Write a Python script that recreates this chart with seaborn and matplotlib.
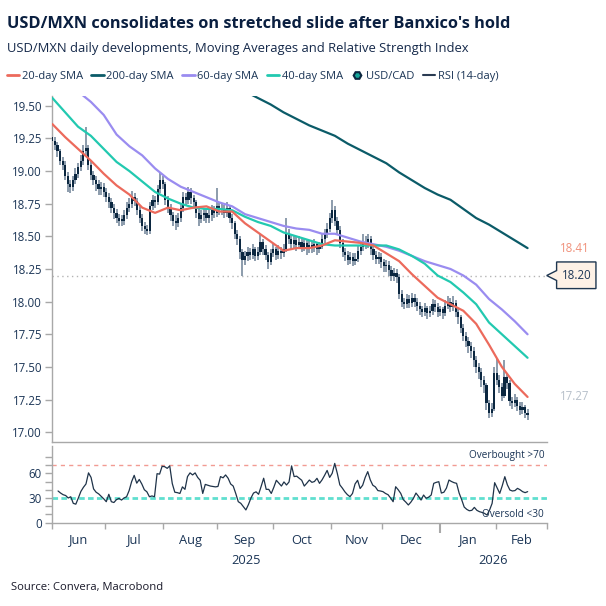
import numpy as np
import pandas as pd
import matplotlib
matplotlib.use("Agg")
import matplotlib.pyplot as plt
import matplotlib.transforms as mtransforms
from matplotlib.lines import Line2D
from matplotlib.patches import Polygon
from matplotlib.ticker import FormatStrFormatter, FixedLocator
import seaborn as sns

# USD/MXN daily candles, business days starting 4 Jun 2025
first_day = "2025-06-04"
axis_start, axis_end = "2025-06-02", "2026-02-27"
first_open = 19.26

close = [
    19.23, 19.20, 19.15, 19.08, 19.05, 18.96, 18.90, 18.88, 18.93, 18.98,
    19.03, 19.08, 19.15, 19.18, 19.05, 18.97, 18.93, 18.90, 18.86, 18.88,
    18.84, 18.80, 18.76, 18.72, 18.68, 18.64, 18.62, 18.62, 18.66, 18.72,
    18.75, 18.80, 18.77, 18.70, 18.64, 18.58, 18.56, 18.54, 18.73, 18.78,
    18.76, 18.86, 18.93, 18.90, 18.78, 18.72, 18.66, 18.62, 18.60, 18.64,
    18.72, 18.80, 18.78, 18.84, 18.79, 18.76, 18.68, 18.63, 18.66, 18.68,
    18.64, 18.66, 18.70, 18.68, 18.73, 18.70, 18.71, 18.68, 18.72, 18.64,
    18.60, 18.52, 18.48, 18.38, 18.32, 18.35, 18.38, 18.36, 18.40, 18.35,
    18.38, 18.46, 18.40, 18.36, 18.30, 18.37, 18.40, 18.36, 18.39, 18.37,
    18.40, 18.52, 18.48, 18.44, 18.47, 18.43, 18.46, 18.42, 18.45, 18.40,
    18.43, 18.41, 18.44, 18.40, 18.42, 18.48, 18.52, 18.56, 18.64, 18.70,
    18.62, 18.55, 18.45, 18.38, 18.36, 18.32, 18.34, 18.31, 18.33, 18.39,
    18.42, 18.46, 18.44, 18.48, 18.40, 18.36, 18.33, 18.34, 18.30, 18.27,
    18.28, 18.24, 18.20, 18.22, 18.19, 18.06, 18.00, 17.98, 18.02, 17.99,
    18.03, 18.00, 17.97, 17.94, 17.92, 17.95, 17.91, 17.93, 17.98, 17.96,
    17.92, 17.94, 17.91, 17.97, 18.00, 17.96, 17.99, 17.92, 17.88, 17.80,
    17.74, 17.70, 17.66, 17.62, 17.55, 17.50, 17.46, 17.40, 17.36, 17.22,
    17.15, 17.18, 17.45, 17.40, 17.35, 17.28, 17.42, 17.38, 17.24, 17.22,
    17.25, 17.20, 17.17, 17.19, 17.15, 17.13,
]
high = [
    19.29, 19.26, 19.22, 19.17, 19.11, 19.08, 18.99, 18.93, 18.96, 19.02,
    19.06, 19.12, 19.20, 19.34, 19.20, 19.08, 19.00, 18.96, 18.93, 18.92,
    18.91, 18.87, 18.83, 18.79, 18.75, 18.71, 18.67, 18.66, 18.70, 18.76,
    18.79, 18.85, 18.83, 18.79, 18.73, 18.67, 18.61, 18.59, 18.76, 18.82,
    18.81, 18.89, 18.99, 18.96, 18.92, 18.81, 18.75, 18.69, 18.66, 18.68,
    18.75, 18.84, 18.83, 18.88, 18.87, 18.82, 18.78, 18.71, 18.70, 18.72,
    18.71, 18.70, 18.74, 18.73, 18.87, 18.76, 18.75, 18.74, 18.76, 18.74,
    18.67, 18.62, 18.55, 18.50, 18.40, 18.39, 18.42, 18.41, 18.44, 18.42,
    18.42, 18.52, 18.48, 18.43, 18.38, 18.40, 18.44, 18.42, 18.43, 18.42,
    18.44, 18.64, 18.56, 18.51, 18.51, 18.50, 18.50, 18.49, 18.49, 18.47,
    18.47, 18.46, 18.48, 18.46, 18.46, 18.52, 18.56, 18.60, 18.68, 18.78,
    18.73, 18.65, 18.58, 18.48, 18.41, 18.39, 18.38, 18.37, 18.37, 18.43,
    18.46, 18.52, 18.50, 18.52, 18.50, 18.43, 18.39, 18.38, 18.37, 18.33,
    18.32, 18.31, 18.27, 18.26, 18.25, 18.21, 18.09, 18.03, 18.06, 18.05,
    18.07, 18.06, 18.03, 18.00, 17.97, 17.99, 17.97, 17.97, 18.02, 18.01,
    17.99, 17.97, 17.96, 18.01, 18.04, 18.03, 18.04, 18.01, 17.95, 17.90,
    17.83, 17.77, 17.73, 17.69, 17.65, 17.58, 17.53, 17.49, 17.43, 17.38,
    17.25, 17.22, 17.50, 17.57, 17.44, 17.38, 17.55, 17.45, 17.40, 17.27,
    17.29, 17.27, 17.23, 17.23, 17.21, 17.18,
]
low = [
    19.19, 19.16, 19.11, 19.05, 19.01, 18.93, 18.84, 18.83, 18.85, 18.90,
    18.95, 19.00, 19.05, 19.12, 19.01, 18.93, 18.89, 18.85, 18.82, 18.82,
    18.80, 18.76, 18.72, 18.68, 18.63, 18.60, 18.58, 18.58, 18.59, 18.63,
    18.69, 18.72, 18.73, 18.66, 18.60, 18.54, 18.52, 18.51, 18.52, 18.70,
    18.72, 18.74, 18.83, 18.86, 18.74, 18.68, 18.62, 18.58, 18.55, 18.57,
    18.61, 18.69, 18.74, 18.75, 18.75, 18.72, 18.64, 18.58, 18.60, 18.62,
    18.60, 18.60, 18.62, 18.64, 18.65, 18.66, 18.66, 18.64, 18.65, 18.60,
    18.56, 18.48, 18.43, 18.33, 18.20, 18.28, 18.31, 18.32, 18.33, 18.31,
    18.32, 18.36, 18.36, 18.32, 18.25, 18.28, 18.34, 18.32, 18.33, 18.33,
    18.34, 18.38, 18.44, 18.40, 18.41, 18.39, 18.40, 18.38, 18.39, 18.36,
    18.37, 18.37, 18.38, 18.36, 18.37, 18.40, 18.45, 18.49, 18.53, 18.60,
    18.58, 18.51, 18.41, 18.34, 18.31, 18.28, 18.29, 18.27, 18.28, 18.30,
    18.36, 18.39, 18.40, 18.41, 18.36, 18.32, 18.29, 18.29, 18.26, 18.23,
    18.23, 18.20, 18.16, 18.16, 18.14, 18.02, 17.96, 17.94, 17.95, 17.95,
    17.96, 17.96, 17.93, 17.90, 17.88, 17.89, 17.87, 17.88, 17.90, 17.92,
    17.88, 17.89, 17.87, 17.89, 17.94, 17.92, 17.93, 17.88, 17.83, 17.76,
    17.70, 17.65, 17.61, 17.57, 17.50, 17.45, 17.41, 17.35, 17.30, 17.17,
    17.11, 17.12, 17.16, 17.36, 17.30, 17.24, 17.26, 17.33, 17.20, 17.18,
    17.19, 17.16, 17.13, 17.14, 17.11, 17.09,
]
rsi = [
    38.5, 36, 34, 33, 30, 31.5, 23.5, 22.5, 30, 38,
    43, 47, 60.5, 55, 41, 37, 35, 32, 29, 25.5,
    34.5, 25.5, 24.5, 28, 29.5, 27.5, 30, 31.5, 39, 50,
    57.5, 48, 52.5, 47, 40, 37.5, 31.5, 32.5, 31.5, 59.5,
    59, 68.5, 68, 66, 69, 47.5, 37, 36.5, 35.5, 43.5,
    40.5, 56, 60.5, 58, 60.5, 55, 51.5, 35.5, 46.5, 45.5,
    44.5, 44, 43.5, 44, 56, 54.5, 58, 54, 47, 44.5,
    35.5, 25.5, 23.5, 19.5, 15.5, 22, 30, 36, 37.5, 34.5,
    44, 54, 40.5, 40.5, 35.5, 43, 51.5, 48, 44.5, 49.5,
    45.8, 49.5, 69, 56, 56.5, 54, 51.5, 44.5, 48, 51.8,
    49, 50, 53.9, 47.8, 52, 57.5, 63.5, 55, 60, 72,
    60, 46, 42, 37.5, 34, 31.6, 35.5, 47, 51.5, 41.5,
    45.5, 55, 62, 52, 45.5, 43.5, 39, 38.5, 37.7, 35.5,
    34, 30, 25.5, 43.7, 40, 35.6, 28, 25, 21.5, 25,
    29.6, 36, 32, 27.5, 33.6, 29.6, 31, 33.6, 47.8, 49,
    49.8, 36, 37, 42, 51.8, 50, 48.6, 47.8, 36, 28,
    19, 16.2, 14.5, 15, 18.6, 15, 13.4, 12.5, 11.3, 9.3,
    15.4, 23.5, 48.6, 42, 35.6, 45, 55.9, 46, 39.7, 38.5,
    39, 41.7, 40, 37.7, 36.5, 37.7,
]

# moving averages, read every 5th business day
sma20 = [19.36, 19.26, 19.17, 19.08, 18.98, 18.89, 18.82, 18.72, 18.68, 18.72,
         18.70, 18.72, 18.73, 18.69, 18.69, 18.60, 18.53, 18.46, 18.39, 18.41,
         18.41, 18.43, 18.47, 18.46, 18.45, 18.43, 18.37, 18.31, 18.21, 18.12,
         18.03, 17.98, 17.93, 17.83, 17.67, 17.50, 17.37, 17.27]
sma40 = [19.56, 19.45, 19.34, 19.27, 19.17, 19.07, 19.00, 18.92, 18.84, 18.79,
         18.75, 18.72, 18.71, 18.71, 18.70, 18.65, 18.61, 18.58, 18.53, 18.50,
         18.47, 18.44, 18.43, 18.43, 18.43, 18.43, 18.43, 18.40, 18.35, 18.29,
         18.20, 18.15, 18.07, 17.98, 17.84, 17.75, 17.66, 17.57]
sma60 = [np.nan, np.nan, 19.61, 19.53, 19.43, 19.28, 19.19, 19.12, 19.02, 18.94,
         18.88, 18.84, 18.80, 18.76, 18.73, 18.67, 18.64, 18.61, 18.58, 18.56,
         18.55, 18.52, 18.52, 18.49, 18.46, 18.44, 18.42, 18.39, 18.35, 18.31,
         18.28, 18.25, 18.20, 18.13, 18.02, 17.94, 17.85, 17.75]
sma200 = [np.nan] * 15 + [19.61, 19.56, 19.51, 19.45, 19.40, 19.35, 19.31, 19.27,
                          19.21, 19.16, 19.11, 19.06, 18.99, 18.93, 18.87, 18.82,
                          18.78, 18.71, 18.64, 18.59, 18.53, 18.47, 18.41]
support = 18.20

NAVY = "#0b2740"
WICK = "#6d8196"
RED = "#ec6a5c"
TEAL = "#0b5b68"
PURPLE = "#9a8cf0"
TURQ = "#22c9b0"
TXT = "#1b3556"
GRID = "#a8a8a8"

sns.set_style("white")
plt.rcParams["font.family"] = ["Open Sans", "DejaVu Sans"]

close = np.array(close)
high = np.array(high)
low = np.array(low)
opens = np.r_[first_open, close[:-1]]
pos = np.arange(len(close))
sma_pos = pos[::5]

# business-day calendar for the axis, positions relative to first candle
cal = pd.bdate_range(axis_start, axis_end)
cal_pos = np.arange(len(cal)) - cal.get_loc(pd.Timestamp(first_day))
months = cal.to_period("M")
cal_df = pd.DataFrame({"pos": cal_pos, "month": months, "year": cal.year})
month_first = cal_df.groupby("month")["pos"].min()
month_mid = cal_df.groupby("month")["pos"].mean()
year_mid = cal_df.groupby("year")["pos"].mean()
bounds = list(month_first.values - 0.5) + [cal_pos[-1] + 0.5]
year_bound = [p - 0.5 for m, p in month_first.items() if m.month == 1]
other_bounds = [b for b in bounds if b not in year_bound]

W = H = 606
fig = plt.figure(figsize=(W / 100, H / 100), dpi=100)


def rect(l, t, r, b):
    return [l / W, 1 - b / H, (r - l) / W, (b - t) / H]


ax = fig.add_axes(rect(51.7, 96, 546.7, 442))
ax2 = fig.add_axes(rect(51.7, 445.7, 546.7, 522.7))

# candles
ax.vlines(pos, low, high, color=WICK, lw=1.1, zorder=2)
body_lo = np.minimum(opens, close)
body_h = np.maximum(np.abs(close - opens), 0.012)
ax.bar(pos, body_h, bottom=body_lo, width=0.85, color=NAVY, linewidth=0, zorder=3)

sns.lineplot(x=sma_pos, y=sma200, ax=ax, color=TEAL, lw=1.6, zorder=4)
sns.lineplot(x=sma_pos, y=sma60, ax=ax, color=PURPLE, lw=1.6, zorder=4)
sns.lineplot(x=sma_pos, y=sma40, ax=ax, color=TURQ, lw=1.6, zorder=4)
sns.lineplot(x=sma_pos, y=sma20, ax=ax, color=RED, lw=1.6, zorder=5)

ax.axhline(support, color="#b4b4b4", ls=(0, (1, 2.5)), lw=1, zorder=1)

xlim = (-0.25, cal_pos[-1] + 0.45)
ax.set_xlim(*xlim)
ax.set_ylim(16.925, 19.575)
ax.set_yticks(np.arange(17, 19.51, 0.25))
ax.yaxis.set_major_formatter(FormatStrFormatter("%.2f"))
ax.set_xticks([])
ax.tick_params(axis="y", left=True, length=5, width=1, color=GRID,
               labelcolor=TXT, labelsize=8.3, pad=2)
for s in ["top", "right"]:
    ax.spines[s].set_visible(False)
for s in ["left", "bottom"]:
    ax.spines[s].set_color(GRID)
    ax.spines[s].set_linewidth(1)
ax.set_xlabel("")
ax.set_ylabel("")

# right-hand value labels and support callout
blend = mtransforms.blended_transform_factory(ax.transAxes, ax.transData)
ax.text(1.057, sma200[-1], f"{sma200[-1]:.2f}", transform=blend, ha="center",
        va="center", color="#f0917b", fontsize=8.3)
ax.text(1.057, sma20[-1], f"{sma20[-1]:.2f}", transform=blend, ha="center",
        va="center", color="#b7c0ca", fontsize=8.3)
box = Polygon([(1.0, support), (1.02, support + 0.038), (1.02, support + 0.104),
               (1.0995, support + 0.104), (1.0995, support - 0.1),
               (1.02, support - 0.1), (1.02, support - 0.038)],
              closed=True, transform=blend, clip_on=False,
              facecolor="#fdf1e6", edgecolor="#1e3650", lw=1, zorder=6)
ax.add_patch(box)
ax.text(1.0598, support, f"{support:.2f}", transform=blend, ha="center",
        va="center", color=TXT, fontsize=8.3, zorder=7)

# RSI panel
sns.lineplot(x=pos, y=rsi, ax=ax2, color="#1f3349", lw=0.9, zorder=4)
ax2.axhline(70, color="#f29b93", ls=(0, (3, 3)), lw=1, zorder=2)
ax2.axhline(30, color="#5fdfcf", ls=(0, (2, 1.2)), lw=2, zorder=2)
ax2.set_xlim(*xlim)
ax2.set_ylim(0, 93.5)
ax2.set_yticks([0, 30, 60])
ax2.yaxis.set_minor_locator(FixedLocator([10, 20, 40, 50, 70, 80]))
ax2.set_xticks(other_bounds)
ax2.set_xticks(year_bound, minor=True)
ax2.tick_params(axis="y", which="both", left=True, length=5, width=1,
                color=GRID, labelcolor=TXT, labelsize=8.3, pad=2)
ax2.tick_params(axis="x", which="major", bottom=True, length=4, width=1,
                color=GRID, labelbottom=False)
ax2.tick_params(axis="x", which="minor", bottom=True, length=7, width=1.5,
                color=GRID, labelbottom=False)
for s in ["top", "right"]:
    ax2.spines[s].set_visible(False)
for s in ["left", "bottom"]:
    ax2.spines[s].set_color(GRID)
    ax2.spines[s].set_linewidth(1)
ax2.set_xlabel("")
ax2.set_ylabel("")

xblend = mtransforms.blended_transform_factory(ax2.transData, ax2.transAxes)
for m, c in month_mid.items():
    ax2.text(c, -0.225, m.strftime("%b"), transform=xblend, ha="center",
             va="center", color=TXT, fontsize=9.3)
for y, c in year_mid.items():
    ax2.text(c, -0.485, str(y), transform=xblend, ha="center", va="center",
             color=TXT, fontsize=9.3)
yblend = mtransforms.blended_transform_factory(ax2.transAxes, ax2.transData)
ax2.text(0.996, 81.4, "Overbought >70", transform=yblend, ha="right",
         va="center", color=TXT, fontsize=7.2)
ax2.text(0.994, 10.2, "Oversold <30", transform=yblend, ha="right",
         va="center", color=TXT, fontsize=7.2)

# titles, legend, source
title = fig.text(7 / W, 1 - 28.3 / H, "USD/MXN consolidates on stretched slide after Banxico's hold",
                 fontsize=12, fontweight="bold", color="#0a1f40", va="baseline")
sub = fig.text(7 / W, 1 - 51.7 / H, "USD/MXN daily developments, Moving Averages and Relative Strength Index",
               fontsize=10, color="#15294a", va="baseline")
src = fig.text(10.5 / W, 1 - 590 / H, "Source: Convera, Macrobond", fontsize=7.5,
               color="#1a1a2a", va="baseline")

renderer = fig.canvas.get_renderer()
for t, target in [(title, 503), (sub, 460), (src, 152)]:
    w = t.get_window_extent(renderer=renderer).width
    t.set_fontsize(t.get_fontsize() * target / w)

handles = [
    Line2D([], [], color=RED, lw=2),
    Line2D([], [], color=TEAL, lw=2),
    Line2D([], [], color=PURPLE, lw=2),
    Line2D([], [], color=TURQ, lw=2),
    Line2D([], [], color="none", marker="H", markersize=5.5,
           markerfacecolor="#17a69a", markeredgecolor=NAVY, markeredgewidth=1.5),
    Line2D([], [], color="#2a3b52", lw=1.5),
]
labels = ["20-day SMA", "200-day SMA", "60-day SMA", "40-day SMA", "USD/CAD", "RSI (14-day)"]
leg = fig.legend(handles, labels, loc="center left", bbox_to_anchor=(7 / W, 1 - 76.5 / H),
                 ncol=6, frameon=False, fontsize=8.0, handlelength=1.1, handletextpad=0.25,
                 columnspacing=0.75, borderaxespad=0, borderpad=0, labelcolor=TXT)
# legend should end where the reference legend ends
lw_px = leg.get_window_extent(renderer=renderer).width
if lw_px > 494:
    for txt in leg.get_texts():
        txt.set_fontsize(8.0 * 494 / lw_px)

fig.savefig("out.png", dpi=100)
